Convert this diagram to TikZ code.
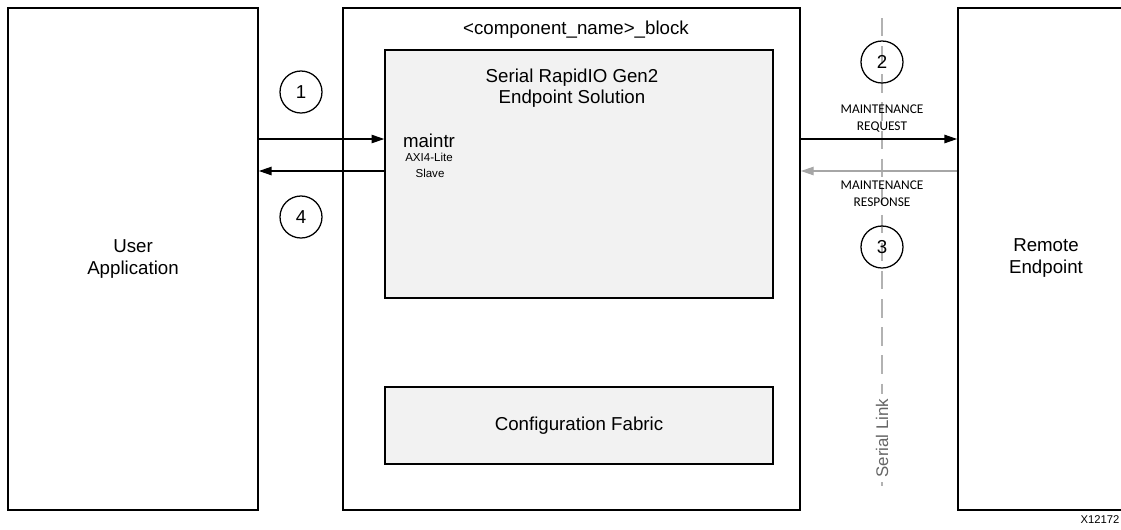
\documentclass[tikz,border=0pt]{standalone}
\usepackage{fontspec}
\setmainfont{Liberation Sans}
\newfontfamily\smallfont{Carlito}
\usetikzlibrary{positioning,arrows.meta,calc}
\tikzset{
	>={Triangle[length=9pt,width=6pt]},
	big/.style={font=\fontsize{13.3}{15}\selectfont},
	block/.style={draw, line width=1.2pt, big, align=center},
	inner/.style={block, fill=gray!10, line width=1pt},
	num/.style={draw, circle, line width=0.9pt, minimum size=1.05cm, inner sep=0pt, big},
	msg/.style={font=\smallfont\fontsize{9.5}{12}\selectfont, align=center, inner sep=1pt},
	tiny/.style={font=\fontsize{8.2}{10}\selectfont},
}
\begin{document}
\begin{tikzpicture}[x=0.025cm, y=-0.025cm]
		\useasboundingbox (0,0) rectangle (1121,529);

		% boxes
		\node[block, minimum width=6.25cm, minimum height=12.55cm] (user) at (133,259) {User\\Application};
		\node[block, minimum width=11.425cm, minimum height=12.55cm] (top) at (571.5,259) {};
		\node[block, minimum width=6.05cm, minimum height=12.55cm] (remote) at (1079,259) {};
		\node[block, draw=none] (remotetext) at (1046,258) {Remote\\Endpoint};
		\node[big] (title) at (576,30) {<component\_name>\_block};
		\node[inner, minimum width=9.7cm, minimum height=6.2cm] (srio) at (579,174) {};
		\node[big, align=center] (sriotitle) at (572,88) {Serial RapidIO Gen2\\Endpoint Solution};
		\node[inner, minimum width=9.7cm, minimum height=1.925cm] (cfg) at (579,425.5) {Configuration Fabric};
		\node[big] (maintr) at (429,141) {maintr};
		\node[tiny] (axi) at (429,157) {AXI4-Lite};
		\node[tiny] (slave) at (430,173) {Slave};

		% serial link
		\coordinate (linktop) at (882,18);
		\coordinate (linkbot) at (882,496);
		\draw[gray!60, line width=1.2pt, dash pattern=on 13pt off 7pt] (linktop) -- (linkbot);
		\node[rotate=90, fill=white, text=gray!80!black, font=\fontsize{12}{14}\selectfont] (serial) at (882,438) {Serial Link};

		% connectors
		\draw[->, thick] (user.east |- 0,139) -- (srio.west |- 0,139);
		\draw[->, thick] (srio.west |- 0,171) -- (user.east |- 0,171);
		\draw[->, thick] (top.east |- 0,139) -- (remote.west |- 0,139);
		\draw[->, thick, gray!70] (remote.west |- 0,171) -- (top.east |- 0,171);

		\node[msg] (req) at (882,118.5) {MAINTENANCE\\REQUEST};
		\node[msg] (resp) at (882,193.5) {MAINTENANCE\\RESPONSE};

		\node[num] (n1) at (301,92) {1};
		\node[num] (n4) at (301,217) {4};
		\node[num] (n2) at (882,62) {2};
		\node[num] (n3) at (882,247) {3};

		\node[font=\fontsize{8}{10}\selectfont, anchor=east, inner sep=1pt] (fig) at (1121,520) {X12172};
	\end{tikzpicture}
\end{document}
